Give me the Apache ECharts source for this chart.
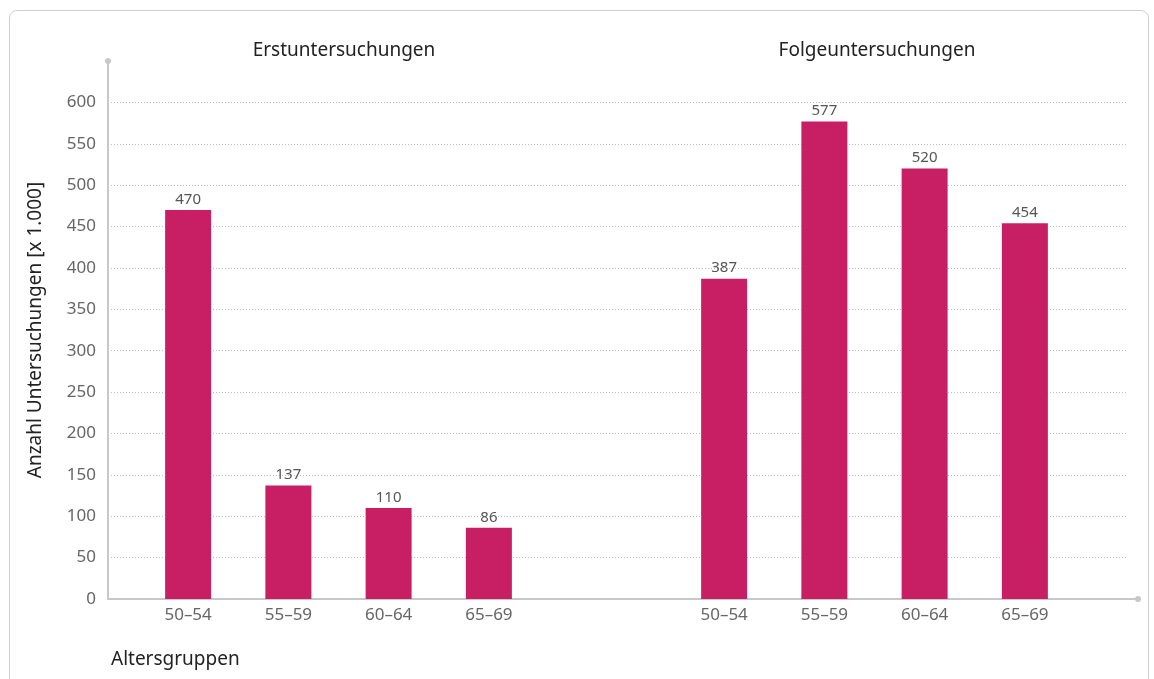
<!DOCTYPE html>
<html>
<head>
<meta charset="utf-8">
<script src="https://cdn.jsdelivr.net/npm/echarts@6/dist/echarts.min.js"></script>
<style>
  html, body { margin: 0; padding: 0; background: #fff; }
  #card { position: absolute; left: 9px; top: 10px; width: 1140px; height: 720px;
          border: 1.5px solid #cfcfcf; border-radius: 8px; box-sizing: border-box; }
  #chart { position: absolute; left: 0; top: 0; width: 1154px; height: 679px; }
</style>
</head>
<body>
<div id="card"></div>
<div id="chart"></div>
<script>
// Age groups shown under each panel
const ageGroups = ['50–54', '55–59', '60–64', '65–69'];
// Screening counts in thousands
const firstExams = [470, 137, 110, 86];
const followUpExams = [387, 577, 520, 454];
// Panel titles
const panelTitles = ['Erstuntersuchungen', 'Folgeuntersuchungen'];
const yTitle = 'Anzahl Untersuchungen [x 1.000]';
const xTitle = 'Altersgruppen';

const barColor = '#c81f64';
const labelGray = '#666';
const axisGray = '#c8c8c8';
const font = '"Noto Sans", "Open Sans", sans-serif';

const chart = echarts.init(document.getElementById('chart'), null, { renderer: 'canvas' });

const yBase = { type: 'value', min: 0, max: 650, interval: 50 };
const plotTop = 61, plotBottom = 80;

function groupAxisX(gridIndex) {
  return {
    type: 'category', gridIndex, data: ageGroups,
    axisLine: { show: false }, axisTick: { show: false },
    axisLabel: { color: labelGray, fontSize: 17, fontFamily: font, margin: 8 }
  };
}
function hiddenY(gridIndex) {
  return Object.assign({}, yBase, {
    gridIndex, show: false, splitLine: { show: false }
  });
}
function barSeries(idx, data) {
  return {
    type: 'bar', xAxisIndex: idx, yAxisIndex: idx, data,
    barWidth: 46,
    itemStyle: { color: barColor },
    label: { show: true, position: 'top', distance: 3, color: '#555',
             fontSize: 15, fontFamily: font }
  };
}

const titleStyle = { fontSize: 19, fontWeight: 'normal', color: '#222', fontFamily: font };

chart.setOption({
  animation: false,
  textStyle: { fontFamily: font },
  title: [
    { text: panelTitles[0], left: 339, top: 36, textAlign: 'center', textStyle: titleStyle },
    { text: panelTitles[1], left: 872, top: 36, textAlign: 'center', textStyle: titleStyle },
    { text: xTitle, left: 106, top: 645, textStyle: titleStyle }
  ],
  grid: [
    // value axis + dotted grid lines
    { left: 108, right: 26, top: plotTop, bottom: plotBottom },
    // left panel
    { left: 138, width: 401, top: plotTop, bottom: plotBottom },
    // right panel
    { left: 674, width: 401, top: plotTop, bottom: plotBottom },
    // baseline running a little past the grid lines
    { left: 108, right: 16, top: plotTop, bottom: plotBottom }
  ],
  xAxis: [
    { type: 'value', gridIndex: 0, min: 0, max: 1, show: false },
    groupAxisX(1),
    groupAxisX(2),
    { type: 'value', gridIndex: 3, min: 0, max: 1,
      axisLabel: { show: false }, axisTick: { show: false }, splitLine: { show: false },
      axisLine: { show: true, lineStyle: { color: axisGray, width: 2 },
                  symbol: ['none', 'circle'], symbolSize: [6, 6] } }
  ],
  yAxis: [
    Object.assign({}, yBase, {
      gridIndex: 0,
      name: yTitle, nameLocation: 'middle', nameGap: 63,
      nameTextStyle: { fontSize: 19, color: '#222', fontFamily: font },
      axisLine: { show: true, lineStyle: { color: axisGray, width: 2 },
                  symbol: ['none', 'circle'], symbolSize: [6, 6] },
      axisTick: { show: false },
      axisLabel: { color: labelGray, fontSize: 17, fontFamily: font, margin: 12,
                   showMaxLabel: false },
      splitLine: { show: true, showMaxLine: false,
                   lineStyle: { color: '#bdbdbd', type: [1, 2], width: 1 } }
    }),
    hiddenY(1),
    hiddenY(2),
    hiddenY(3)
  ],
  series: [
    barSeries(1, firstExams),
    barSeries(2, followUpExams)
  ]
});
</script>
</body>
</html>
